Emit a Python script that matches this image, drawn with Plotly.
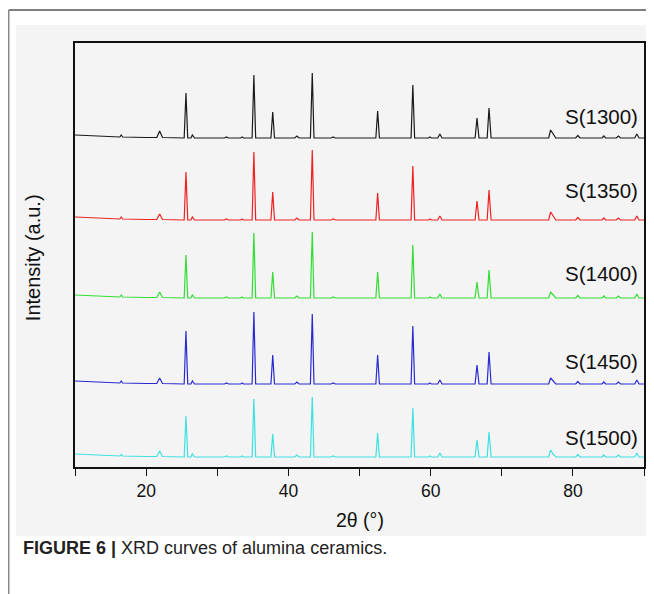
import plotly.graph_objects as go

# 2-theta sampling points (degrees) shared by all patterns
two_theta = [10.0, 14.0, 16.3, 16.5, 16.7, 20.0, 21.5, 21.9, 22.3,
             25.35, 25.6, 25.85, 26.3, 26.5, 26.8, 31.0, 31.3, 31.6,
             33.3, 33.5, 33.7, 34.9, 35.15, 35.4, 37.55, 37.8, 38.05,
             40.9, 41.2, 41.5, 43.1, 43.36, 43.6, 46.0, 46.3, 46.6,
             52.3, 52.55, 52.8, 57.25, 57.5, 57.75, 59.7, 59.9, 60.1,
             61.0, 61.3, 61.6, 66.25, 66.52, 66.8, 67.95, 68.21, 68.5,
             76.6, 76.87, 77.2, 77.6, 80.4, 80.7, 81.0, 84.1, 84.35, 84.6,
             86.1, 86.4, 86.7, 88.7, 88.99, 89.3, 90.0]

samples = ["S(1300)", "S(1350)", "S(1400)", "S(1450)", "S(1500)"]
offsets = [329, 247, 169, 83, 10]
colors = ["#1a1a1a", "#ee2222", "#33dd33", "#2a2ad0", "#3ee0e0"]
label_y = [351, 277, 194, 106, 30]

s1300 = [3, 1.5, 1, 3, 1, 0.5, 0.5, 7, 0.5,
         0, 45, 0, 0, 3, 0, 0, 1, 0,
         0, 1, 0, 0, 63, 0, 0, 26, 0,
         0, 2, 0, 0, 65, 0, 0, 1, 0,
         0, 27, 0, 0, 53, 0, 0, 1, 0,
         0, 4, 0, 0, 20, 0, 0, 30, 0,
         0, 8, 4, 0, 0, 2.5, 0, 0, 2, 0,
         0, 2, 0, 0, 4, 0, 0]
s1350 = [3, 1.5, 1, 3, 1, 0.5, 0.5, 6, 0.5,
         0, 48, 0, 0, 3, 0, 0, 1, 0,
         0, 1, 0, 0, 68, 0, 0, 28, 0,
         0, 2, 0, 0, 70, 0, 0, 1, 0,
         0, 27, 0, 0, 54, 0, 0, 1, 0,
         0, 4, 0, 0, 19, 0, 0, 30, 0,
         0, 8, 4, 0, 0, 2.5, 0, 0, 2, 0,
         0, 2, 0, 0, 4, 0, 0]
s1400 = [3, 1.5, 1, 3, 1, 0.5, 0.5, 6, 0.5,
         0, 43, 0, 0, 3, 0, 0, 1, 0,
         0, 1, 0, 0, 65, 0, 0, 26, 0,
         0, 2, 0, 0, 66, 0, 0, 1, 0,
         0, 26, 0, 0, 53, 0, 0, 1, 0,
         0, 4, 0, 0, 16, 0, 0, 28, 0,
         0, 6, 3, 0, 0, 2.5, 0, 0, 2, 0,
         0, 2, 0, 0, 4, 0, 0]
s1450 = [3, 1.5, 1, 3, 1, 0.5, 0.5, 6, 0.5,
         0, 53, 0, 0, 3, 0, 0, 1, 0,
         0, 1, 0, 0, 72, 0, 0, 29, 0,
         0, 2, 0, 0, 70, 0, 0, 1, 0,
         0, 29, 0, 0, 58, 0, 0, 1, 0,
         0, 4, 0, 0, 19, 0, 0, 32, 0,
         0, 6, 3, 0, 0, 2.5, 0, 0, 2, 0,
         0, 2, 0, 0, 4, 0, 0]
s1500 = [3, 1.5, 1, 2.5, 1, 0.5, 0.5, 6, 0.5,
         0, 41, 0, 0, 3, 0, 0, 1, 0,
         0, 1, 0, 0, 58, 0, 0, 23, 0,
         0, 2, 0, 0, 60, 0, 0, 1, 0,
         0, 24, 0, 0, 49, 0, 0, 1, 0,
         0, 4, 0, 0, 17, 0, 0, 25, 0,
         0, 7, 3, 0, 0, 2.5, 0, 0, 2, 0,
         0, 2, 0, 0, 4, 0, 0]
patterns = [s1300, s1350, s1400, s1450, s1500]

tick_vals = [10, 20, 30, 40, 50, 60, 70, 80, 90]
tick_text = ["", "20", "", "40", "", "60", "", "80", ""]

FONT = "Liberation Sans, Arial, sans-serif"
GRAY = "#f4f4f4"

fig = go.Figure()
for name, off, col, ys in zip(samples, offsets, colors, patterns):
    fig.add_trace(go.Scatter(
        x=two_theta, y=[off + v for v in ys], mode="lines", name=name,
        line=dict(color=col, width=1.2), hoverinfo="skip"))

# page body has an 8 px margin: work in window pixels, shift into figure
OFF = 8
W, H = 654 - OFF, 594 - OFF
L, R, T, B = 75, 646, 43, 467          # plot box in window pixels
pw, ph = R - L, B - T


def px(x):
    return (x - L) / pw


def py(y):
    return (B - y) / ph


shapes = [
    dict(type="rect", xref="paper", yref="paper", x0=px(16), x1=px(651),
         y0=py(536), y1=py(25), fillcolor=GRAY, line=dict(width=0), layer="below"),
    dict(type="line", xref="paper", yref="paper", x0=px(8.5), x1=px(660),
         y0=py(10), y1=py(10), line=dict(color="#555555", width=1.5)),
    dict(type="line", xref="paper", yref="paper", x0=px(8.5), x1=px(8.5),
         y0=py(10), y1=py(600), line=dict(color="#888888", width=1.5)),
]

annotations = []
for name, ly in zip(samples, label_y):
    annotations.append(dict(x=89.45, y=ly, xref="x", yref="y", text=name,
                            showarrow=False, xanchor="right", yanchor="middle",
                            font=dict(family=FONT, size=20.5, color="#111111")))
annotations.append(dict(x=px(33), y=py(258), xref="paper", yref="paper",
                        text="Intensity (a.u.)", textangle=-90, showarrow=False,
                        xanchor="center", yanchor="middle",
                        font=dict(family=FONT, size=20, color="#111111")))
annotations.append(dict(x=px(361), y=py(520), xref="paper", yref="paper",
                        text="2θ (°)", showarrow=False,
                        xanchor="center", yanchor="middle",
                        font=dict(family=FONT, size=19.5, color="#111111")))
annotations.append(dict(x=px(21), y=py(548), xref="paper", yref="paper",
                        text="<b>FIGURE 6 |</b> XRD curves of alumina ceramics.",
                        showarrow=False, xanchor="left", yanchor="middle",
                        font=dict(family=FONT, size=18, color="#222222")))

fig.update_layout(
    width=W, height=H,
    margin=dict(l=L - OFF, r=W - (R - OFF), t=T - OFF, b=H - (B - OFF), pad=0),
    paper_bgcolor="white", plot_bgcolor=GRAY,
    showlegend=False,
    shapes=shapes, annotations=annotations,
    xaxis=dict(range=[10, 90], tickmode="array", tickvals=tick_vals,
               ticktext=tick_text, ticks="outside", ticklen=7, tickwidth=1.3,
               tickcolor="#111111", showline=True, linecolor="#111111",
               linewidth=1.5, mirror=True, showgrid=False, zeroline=False,
               tickfont=dict(family=FONT, size=17.5, color="#111111")),
    yaxis=dict(range=[0, ph], showticklabels=False, ticks="", showline=True,
               linecolor="#111111", linewidth=1.5, mirror=True,
               showgrid=False, zeroline=False),
)

fig.write_html("out.html")
